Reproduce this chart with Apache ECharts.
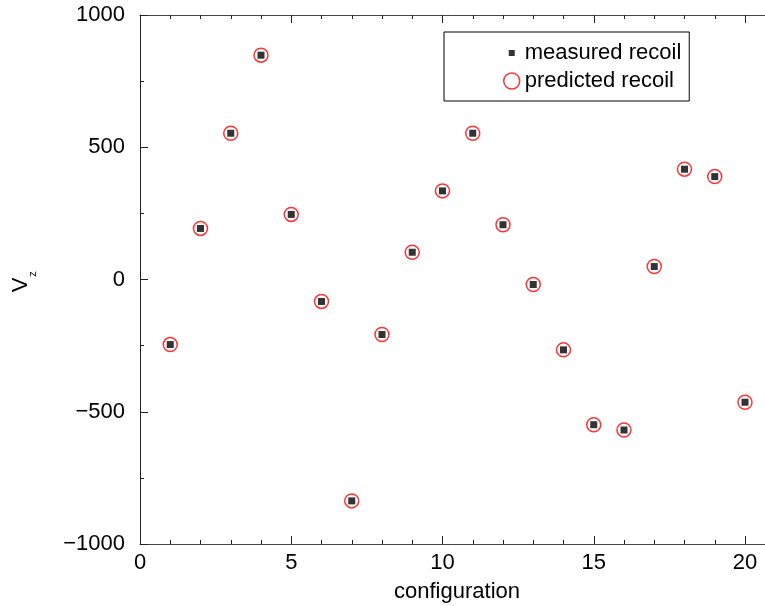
<!DOCTYPE html>
<html>
<head>
<meta charset="utf-8">
<script src="https://cdn.jsdelivr.net/npm/echarts@6/dist/echarts.min.js"></script>
<style>
html,body{margin:0;padding:0;background:#fff;}
#chart{width:765px;height:606px;}
</style>
</head>
<body>
<div id="chart"></div>
<script>
// ---- data ----
var configurations = [1,2,3,4,5,6,7,8,9,10,11,12,13,14,15,16,17,18,19,20];
var measuredRecoil = [-246,193,553,848,246,-83,-837,-208,103,335,553,207,-19,-266,-549,-569,49,417,389,-464];
var predictedRecoil = [-246,193,553,848,246,-83,-837,-208,103,335,553,207,-19,-266,-549,-569,49,417,389,-464];
var xTickLabels = ['0','5','10','15','20'];
var yTickLabels = {'1000':'1000','500':'500','0':'0','-500':'\u2212500','-1000':'\u22121000'};

var FONT = 'Liberation Sans, Arial, Helvetica, sans-serif';

function pairs(xs, ys){ return xs.map(function(x,i){ return [x, ys[i]]; }); }

var chart = echarts.init(document.getElementById('chart'), null, {renderer:'canvas'});

var xBase = {
  type:'value', min:0, max:25, interval:5, gridIndex:0,
  splitLine:{show:false},
  axisLine:{show:true, onZero:false, lineStyle:{color:'#444', width:1}},
  axisTick:{show:true, inside:true, length:8, lineStyle:{color:'#222', width:1}},
  minorTick:{show:true, splitNumber:5, length:4, lineStyle:{color:'#222', width:1}},
  minorSplitLine:{show:false}
};

var option = {
  backgroundColor:'#fff',
  animation:false,
  grid:{left:140, top:15, width:756.25, height:529, containLabel:false, outerBoundsMode:'none'},
  xAxis:[
    Object.assign({}, xBase, {
      position:'bottom',
      axisLabel:{show:true, margin:8, color:'#000', fontSize:22, fontFamily:FONT,
        formatter:function(v){ var i = xTickLabels.indexOf(String(v)); return i>=0 ? xTickLabels[i] : ''; }}
    }),
    Object.assign({}, xBase, {position:'top', axisLabel:{show:false}})
  ],
  yAxis:[{
    type:'value', min:-1000, max:1000, interval:500,
    splitLine:{show:false},
    axisLine:{show:true, onZero:false, lineStyle:{color:'#222', width:1}},
    axisTick:{show:true, inside:true, length:8, lineStyle:{color:'#222', width:1}},
    minorTick:{show:true, splitNumber:2, length:4, lineStyle:{color:'#222', width:1}},
    axisLabel:{show:true, margin:15, color:'#000', fontSize:22, fontFamily:FONT,
      formatter:function(v){ return yTickLabels[String(v)] || ''; }}
  }],
  legend:{
    show:true, orient:'vertical', left:444, top:32,
    padding:[10,8,9,59], itemGap:6, itemWidth:16, itemHeight:16,
    borderColor:'#000', borderWidth:1, backgroundColor:'#fff',
    textStyle:{color:'#000', fontSize:22, fontFamily:FONT, lineHeight:22},
    data:[
      {name:'measured recoil', icon:'path://M0,0M16,16M5,5L11,5L11,11L5,11Z', itemStyle:{color:'#000', borderWidth:0}},
      {name:'predicted recoil', icon:'circle', itemStyle:{color:'rgba(255,255,255,0)', borderColor:'#ff0000', borderWidth:1.5}}
    ],
    selectedMode:false
  },
  series:[
    {
      name:'predicted recoil', type:'scatter', xAxisIndex:0, yAxisIndex:0,
      symbol:'circle', symbolSize:14, z:2,
      itemStyle:{color:'rgba(255,255,255,0)', borderColor:'#ff0000', borderWidth:1.5},
      data:pairs(configurations, predictedRecoil)
    },
    {
      name:'measured recoil', type:'scatter', xAxisIndex:0, yAxisIndex:0,
      symbol:'rect', symbolSize:7, z:3,
      itemStyle:{color:'#000'},
      data:pairs(configurations, measuredRecoil)
    }
  ],
  graphic:[
    {type:'text', position:[457, 592], style:{text:'configuration', fill:'#000', font:'22px '+FONT, align:'center', verticalAlign:'middle'}},
    {type:'text', position:[21, 285], rotation:Math.PI/2, style:{text:'V', fill:'#000', font:'22px '+FONT, align:'center', verticalAlign:'middle'}},
    {type:'text', position:[33, 274], rotation:Math.PI/2, style:{text:'z', fill:'#000', font:'11px '+FONT, align:'center', verticalAlign:'middle'}}
  ]
};
chart.setOption(option);
</script>
</body>
</html>
